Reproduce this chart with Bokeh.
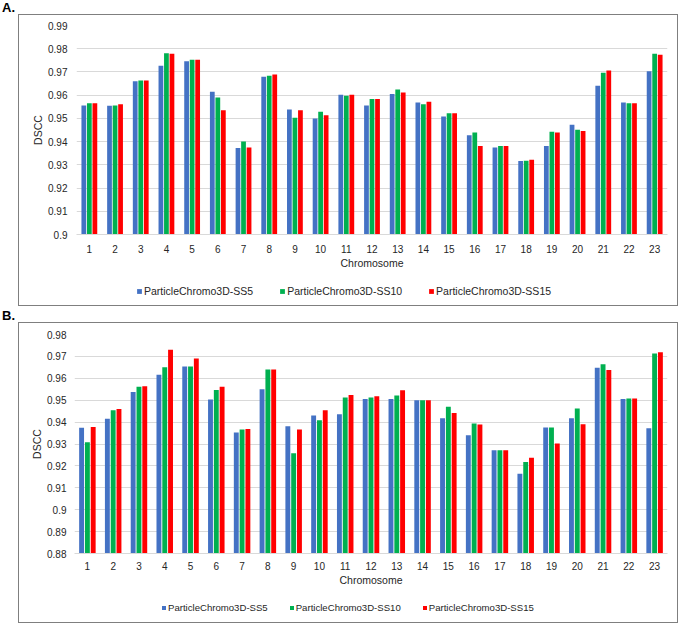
from bokeh.plotting import figure
from bokeh.models import (FactorRange, Range1d, FixedTicker, CustomJSTickFormatter,
                          Legend, LegendItem, ColumnDataSource, Div, Spacer)
from bokeh.transform import dodge
from bokeh.layouts import column, row
from bokeh.embed import file_html
from bokeh.resources import INLINE

chromosomes = [str(i) for i in range(1, 24)]
series_names = ["ParticleChromo3D-SS5", "ParticleChromo3D-SS10", "ParticleChromo3D-SS15"]
colors = ["#4472C4", "#00B050", "#FF0000"]

A_ss5 = [0.9555, 0.9554, 0.9660, 0.9727, 0.9746, 0.9615, 0.9372, 0.9679, 0.9538, 0.9500, 0.9602, 0.9555,
         0.9605, 0.9568, 0.9508, 0.9427, 0.9375, 0.9317, 0.9381, 0.9473, 0.9641, 0.9568, 0.9703]
A_ss10 = [0.9565, 0.9555, 0.9663, 0.9780, 0.9752, 0.9590, 0.9400, 0.9684, 0.9503, 0.9529, 0.9598, 0.9584,
          0.9624, 0.9561, 0.9522, 0.9439, 0.9381, 0.9318, 0.9443, 0.9451, 0.9697, 0.9565, 0.9778]
A_ss15 = [0.9565, 0.9561, 0.9663, 0.9778, 0.9752, 0.9535, 0.9375, 0.9689, 0.9535, 0.9513, 0.9602, 0.9584,
          0.9611, 0.9572, 0.9522, 0.9381, 0.9381, 0.9322, 0.9439, 0.9446, 0.9706, 0.9565, 0.9774]
A_yticks = [0.90, 0.91, 0.92, 0.93, 0.94, 0.95, 0.96, 0.97, 0.98, 0.99]

B_ss5 = [0.9374, 0.9415, 0.9538, 0.9616, 0.9654, 0.9503, 0.9353, 0.9550, 0.9381, 0.9430, 0.9436, 0.9505,
         0.9505, 0.9500, 0.9418, 0.9340, 0.9272, 0.9164, 0.9375, 0.9418, 0.9648, 0.9505, 0.9372]
B_ss10 = [0.9308, 0.9454, 0.9561, 0.9651, 0.9654, 0.9547, 0.9366, 0.9640, 0.9258, 0.9409, 0.9512, 0.9512,
          0.9521, 0.9500, 0.9470, 0.9394, 0.9272, 0.9218, 0.9375, 0.9462, 0.9664, 0.9508, 0.9713]
B_ss15 = [0.9378, 0.9460, 0.9564, 0.9730, 0.9690, 0.9561, 0.9369, 0.9640, 0.9366, 0.9454, 0.9524, 0.9518,
          0.9546, 0.9500, 0.9441, 0.9389, 0.9272, 0.9237, 0.9302, 0.9390, 0.9638, 0.9508, 0.9719]
B_yticks = [0.88, 0.89, 0.90, 0.91, 0.92, 0.93, 0.94, 0.95, 0.96, 0.97, 0.98]

FONT = "Liberation Sans"
TEXT = "#262626"
BORDER = {"border": "1px solid #7f7f7f"}
W = 658


def make_source(s5, s10, s15):
    return ColumnDataSource(dict(chrom=chromosomes, ss5=s5, ss10=s10, ss15=s15))


def add_bars(p, src, base, offset, bar_w):
    rs = []
    for key, off, col in zip(["ss5", "ss10", "ss15"], [-offset, 0.0, offset], colors):
        rs.append(p.vbar(x=dodge("chrom", off, range=p.x_range), top=key, bottom=base,
                         width=bar_w, source=src, fill_color=col, line_color=None))
    return rs


def make_chart(src, yticks, height, top, bottom, left, offset, bar_w,
               x_standoff, x_label_standoff, y_standoff, y_label_standoff):
    p = figure(width=W, height=height, x_range=FactorRange(*chromosomes),
               y_range=Range1d(yticks[0], yticks[-1]), output_backend="svg",
               toolbar_location=None, min_border_top=top, min_border_bottom=bottom,
               min_border_left=left, min_border_right=10)
    add_bars(p, src, yticks[0], offset, bar_w)

    p.outline_line_color = None
    p.xgrid.grid_line_color = None
    p.ygrid.grid_line_color = "#d9d9d9"
    p.ygrid.grid_line_width = 1

    p.yaxis.ticker = FixedTicker(ticks=yticks)
    p.yaxis.formatter = CustomJSTickFormatter(code="return (Math.round(tick*100)/100).toString();")
    p.yaxis.axis_label = "DSCC"
    for ax in (p.xaxis[0], p.yaxis[0]):
        ax.major_tick_out = 0
        ax.major_tick_in = 0
        ax.minor_tick_out = 0
        ax.minor_tick_in = 0
        ax.major_label_text_font = FONT
        ax.major_label_text_font_size = "10px"
        ax.major_label_text_color = TEXT
        ax.axis_label_text_font = FONT
        ax.axis_label_text_font_size = "10.5px"
        ax.axis_label_text_font_style = "normal"
        ax.axis_label_text_color = TEXT
    p.yaxis.axis_line_color = None
    p.yaxis.major_label_standoff = y_standoff
    p.yaxis.axis_label_standoff = y_label_standoff
    p.xaxis.axis_line_color = "#d9d9d9"
    p.xaxis.axis_label = "Chromosome"
    p.xaxis.major_label_standoff = x_standoff
    p.xaxis.axis_label_standoff = x_label_standoff
    return p


def make_legend(src, base, height, vx, vy, font, spacing, glyph):
    # legend strip: same bar renderers, kept out of view, only their legend entries show
    q = figure(width=W, height=height, x_range=FactorRange(*chromosomes), y_range=Range1d(0, 0.5),
               output_backend="svg", toolbar_location=None, x_axis_location=None,
               y_axis_location=None, min_border=0, min_border_left=0, min_border_right=0,
               min_border_top=0, min_border_bottom=0)
    q.outline_line_color = None
    q.grid.visible = False
    rs = add_bars(q, src, base, 0.2, 0.0005)
    legend = Legend(items=[LegendItem(label=n, renderers=[r]) for n, r in zip(series_names, rs)],
                    orientation="horizontal", location=(vx, vy), glyph_width=glyph, glyph_height=glyph,
                    label_height=12, label_standoff=2, spacing=spacing, padding=0, margin=0,
                    border_line_color=None, background_fill_alpha=0,
                    label_text_font=FONT, label_text_font_size=font, label_text_color=TEXT)
    q.add_layout(legend)
    return q


def letter_div(txt, h, mtop):
    return Div(text=txt, width=20, height=h, margin=(mtop, 0, 0, 2),
               styles={"font-family": FONT, "font-weight": "bold", "font-size": "13px",
                       "line-height": "11px", "color": "#000000", "overflow": "visible"})


srcA = make_source(A_ss5, A_ss10, A_ss15)
srcB = make_source(B_ss5, B_ss10, B_ss15)

chartA = make_chart(srcA, A_yticks, height=257, top=10, bottom=38, left=57, offset=0.215, bar_w=0.185,
                    x_standoff=10, x_label_standoff=1, y_standoff=9, y_label_standoff=1)
legA = make_legend(srcA, A_yticks[0], 33, 60, 8, "10.5px", 26, 6)
chartB = make_chart(srcB, B_yticks, height=266, top=11, bottom=36, left=55, offset=0.225, bar_w=0.19,
                    x_standoff=8, x_label_standoff=1, y_standoff=8, y_label_standoff=1)
legB = make_legend(srcB, B_yticks[0], 33, 87, 9, "9.6px", 21, 5)

blockA = row(Spacer(width=18, height=10, margin=0), column(chartA, legA, styles=BORDER))
blockB = row(Spacer(width=18, height=10, margin=0), column(chartB, legB, styles=BORDER))
layout = column(letter_div("A.", 12, 2), blockA, letter_div("B.", 12, 4), blockB)
open("out.html", "w").write(file_html(layout, INLINE))
